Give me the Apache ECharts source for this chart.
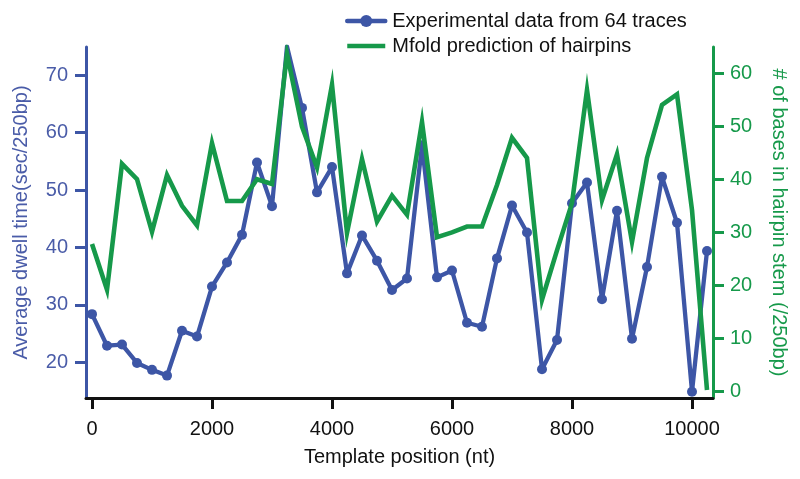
<!DOCTYPE html>
<html>
<head>
<meta charset="utf-8">
<script src="https://cdn.jsdelivr.net/npm/echarts@6/dist/echarts.min.js"></script>
<style>
html,body{margin:0;padding:0;background:#fff;}
#chart{width:800px;height:479px;}
</style>
</head>
<body>
<div id="chart"></div>
<script>
// Template positions (nt)
var positions = [0,250,500,750,1000,1250,1500,1750,2000,2250,2500,2750,3000,3250,3500,3750,4000,4250,4500,4750,5000,5250,5500,5750,6000,6250,6500,6750,7000,7250,7500,7750,8000,8250,8500,8750,9000,9250,9500,9750,10000,10250];
// Average dwell time (sec/250bp)
var dwellTime = [28.4,22.9,23.1,19.9,18.7,17.7,25.5,24.5,33.2,37.4,42.2,54.8,47.2,75.0,64.3,49.6,54.0,35.5,42.1,37.7,32.6,34.6,57.8,34.8,36.0,26.9,26.2,38.1,47.3,42.6,18.8,23.9,47.7,51.3,31.0,46.4,24.1,36.6,52.3,44.3,14.9,39.4];
// # of bases in hairpin stem (/250bp)
var hairpinBases = [27.8,19.2,42.9,40.0,30.1,40.8,35.0,31.3,46.8,35.9,35.9,40.0,39.1,63.6,49.9,42.2,57.8,29.9,43.8,32.0,36.9,33.3,50.8,29.1,30.0,31.1,31.1,38.9,47.8,44.0,17.3,26.6,35.5,56.8,36.1,44.7,28.2,44.0,54.0,56.0,34.2,0.3];
// Tick labels
var xTicks = [0,2000,4000,6000,8000,10000];
var leftTicks = [20,30,40,50,60,70];
var rightTicks = [0,10,20,30,40,50,60];

var seriesNames = ['Experimental data from 64 traces', 'Mfold prediction of hairpins'];

var BLUE = '#3d56a6';
var BLUE_TXT = '#4a5ca8';
var GREEN = '#16994a';
var FONT = '"Liberation Sans", Arial, Helvetica, sans-serif';

function pairs(xs, ys){ var out=[]; for(var i=0;i<xs.length;i++){ out.push([xs[i], ys[i]]); } return out; }
function plain(v){ return String(v); }

var chart = echarts.init(document.getElementById('chart'), null, {renderer:'canvas'});
chart.setOption({
  animation:false,
  backgroundColor:'#ffffff',
  textStyle:{fontFamily:FONT},
  legend:{
    orient:'vertical',
    left:340, top:6,
    itemWidth:38, itemHeight:15, itemGap:5,
    textStyle:{fontSize:20, color:'#111', fontFamily:FONT, padding:[0,0,0,2]},
    lineStyle:{width:4.5},
    data:[
      {name:seriesNames[0]},
      {name:seriesNames[1], icon:'path://M0,0 L38,0 L38,4.5 L0,4.5 Z'}
    ]
  },
  grid:{left:86, right:87, top:47, bottom:81, containLabel:false, outerBoundsMode:'none'},
  xAxis:{
    type:'value', min:-100, max:10350,
    name:'Template position (nt)', nameLocation:'middle', nameGap:49,
    nameTextStyle:{fontSize:20, color:'#111', fontFamily:FONT},
    axisLine:{show:true, onZero:false, lineStyle:{color:'#111', width:3}},
    axisTick:{show:true, length:11, lineStyle:{color:'#111', width:3}, customValues:xTicks},
    axisLabel:{fontSize:20, color:'#111', margin:21, fontFamily:FONT, customValues:xTicks, formatter:plain},
    splitLine:{show:false}
  },
  yAxis:[{
    type:'value', position:'left', min:13.8, max:74.9,
    name:'Average dwell time(sec/250bp)', nameLocation:'middle', nameGap:55, nameRotate:90,
    nameTextStyle:{fontSize:20, color:BLUE_TXT, fontFamily:FONT},
    axisLine:{show:true, onZero:false, lineStyle:{color:BLUE, width:3}},
    axisTick:{show:true, length:11, lineStyle:{color:BLUE, width:3}, customValues:leftTicks},
    axisLabel:{fontSize:20, color:BLUE_TXT, margin:18, fontFamily:FONT, customValues:leftTicks, formatter:plain},
    splitLine:{show:false}
  },{
    type:'value', position:'right', min:-1.2, max:64.9,
    name:'# of bases in hairpin stem (/250bp)', nameLocation:'middle', nameGap:56, nameRotate:-90,
    nameTextStyle:{fontSize:20, color:GREEN, fontFamily:FONT},
    axisLine:{show:true, onZero:false, lineStyle:{color:GREEN, width:3}},
    axisTick:{show:true, length:11, lineStyle:{color:GREEN, width:3}, customValues:rightTicks},
    axisLabel:{fontSize:20, color:GREEN, margin:17, fontFamily:FONT, customValues:rightTicks, formatter:plain},
    splitLine:{show:false}
  }],
  series:[{
    name:seriesNames[0], type:'line', yAxisIndex:0,
    data:pairs(positions, dwellTime),
    symbol:'circle', symbolSize:10, showSymbol:true,
    lineStyle:{color:BLUE, width:4.3, join:'round', cap:'round'},
    itemStyle:{color:BLUE},
    z:2
  },{
    name:seriesNames[1], type:'line', yAxisIndex:1,
    data:pairs(positions, hairpinBases),
    symbol:'none', showSymbol:false,
    lineStyle:{color:GREEN, width:4.6, join:'miter'},
    itemStyle:{color:GREEN},
    z:3
  }]
});
</script>
</body>
</html>
